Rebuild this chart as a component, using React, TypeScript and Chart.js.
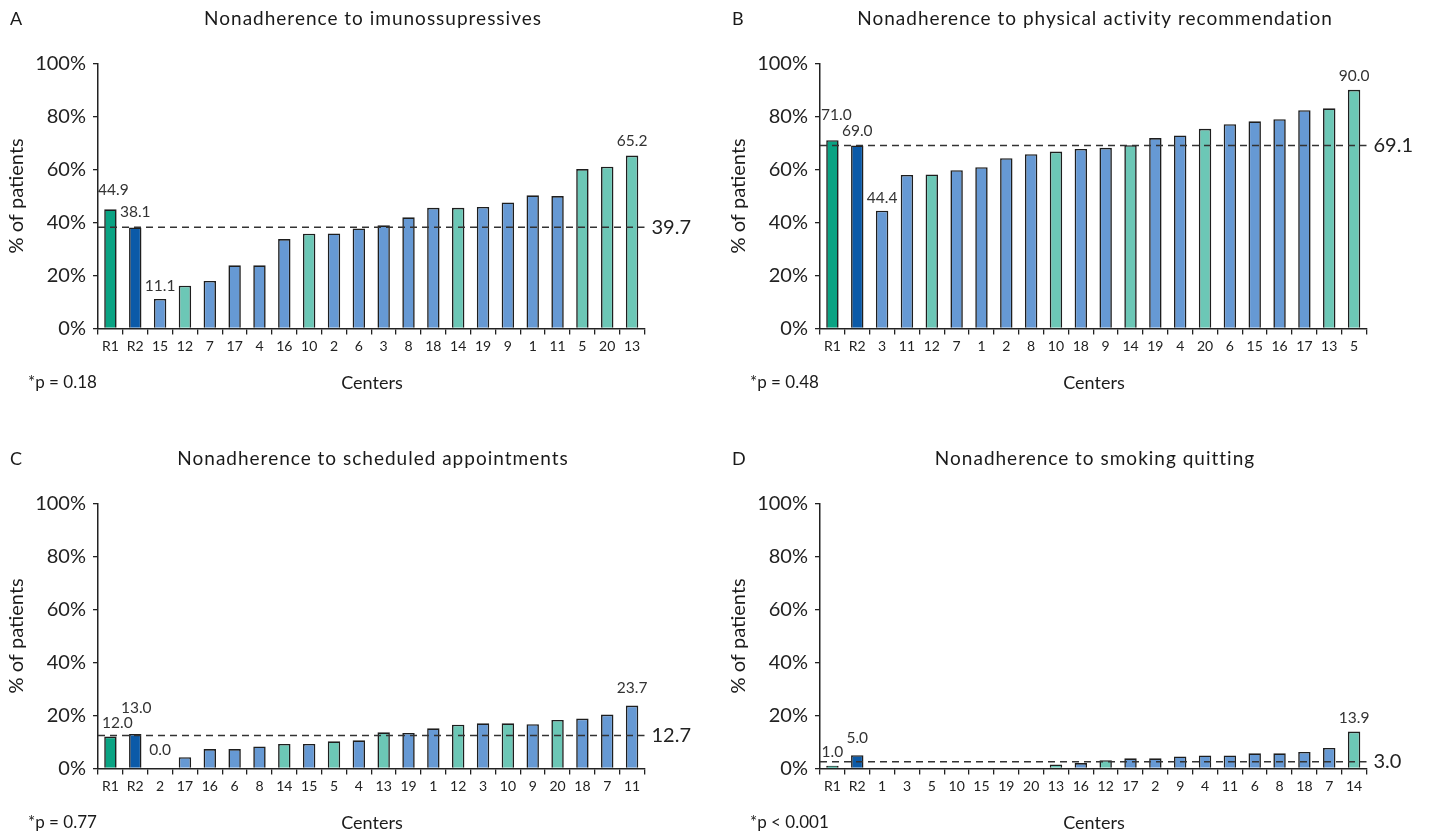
import React, { useEffect, useRef } from "react";
import { Chart, registerables } from "chart.js";

Chart.register(...registerables);

// ---------- data ----------
const titles = [
  "Nonadherence to imunossupressives",
  "Nonadherence to physical activity recommendation",
  "Nonadherence to scheduled appointments",
  "Nonadherence to smoking quitting",
];
const panelLetters = ["A", "B", "C", "D"];
const pValues = ["*p = 0.18", "*p = 0.48", "*p = 0.77", "*p < 0.001"];

const categoriesA = ["R1", "R2", "15", "12", "7", "17", "4", "16", "10", "2", "6", "3", "8", "18", "14", "19", "9", "1", "11", "5", "20", "13"];
const valuesA = [44.9, 38.1, 11.1, 16.1, 17.9, 23.8, 23.8, 33.7, 35.7, 35.8, 37.7, 38.9, 41.9, 45.5, 45.5, 45.8, 47.5, 50.2, 49.9, 60.1, 61.0, 65.2];
const tealA = ["12", "10", "14", "5", "20", "13"];

const categoriesB = ["R1", "R2", "3", "11", "12", "7", "1", "2", "8", "10", "18", "9", "14", "19", "4", "20", "6", "15", "16", "17", "13", "5"];
const valuesB = [71.0, 69.0, 44.4, 57.9, 58.1, 59.7, 60.8, 64.2, 65.7, 66.7, 67.7, 68.1, 69.1, 71.8, 72.8, 75.3, 77.0, 78.1, 78.9, 82.3, 83.0, 90.0];
const tealB = ["12", "10", "14", "20", "13", "5"];

const categoriesC = ["R1", "R2", "2", "17", "16", "6", "8", "14", "15", "5", "4", "13", "19", "1", "12", "3", "10", "9", "20", "18", "7", "11"];
const valuesC = [12.0, 13.0, 0.0, 4.2, 7.3, 7.3, 8.3, 9.2, 9.2, 10.2, 10.6, 13.6, 13.4, 15.1, 16.5, 17.0, 17.0, 16.7, 18.3, 18.8, 20.3, 23.7];
const tealC = ["14", "5", "13", "12", "10", "20"];

const categoriesD = ["R1", "R2", "1", "3", "5", "10", "15", "19", "20", "13", "16", "12", "17", "2", "9", "4", "11", "6", "8", "18", "7", "14"];
const valuesD = [1.0, 5.0, 0, 0, 0, 0, 0, 0, 0, 1.5, 2.0, 3.1, 3.8, 3.8, 4.5, 4.9, 4.9, 5.7, 5.7, 6.2, 7.7, 13.9];
const tealD = ["13", "12", "14"];

// mean line: drawn position and printed value
const meanLineValues = [38.2, 69.0, 12.4, 2.5];
const meanLabels = ["39.7", "69.1", "12.7", "3.0"];

// which bars carry a value label
const labelledA = [0, 1, 2, 21];
const labelledB = [0, 1, 2, 21];
const labelledC = [0, 1, 2, 21];
const labelledD = [0, 1, 21];

const yTicks = [0, 20, 40, 60, 80, 100];

// ---------- styles / layout ----------
const FONT = 'Lato, "Open Sans", "DejaVu Sans", sans-serif';
const COLORS = { r1: "#0aa383", r2: "#0b5aa8", blue: "#6699d4", teal: "#6cc7b6" };
const W = 716;
const H = 396;
const AREA = { left: 98, right: 644.5, top: 63.3, bottom: 328.4 };
// label placement (pixels above bar top, horizontal shift)
const liftA = [19, 15, 13, 15];
const liftB = [25, 14, 13, 14];
const liftC = [14, 26, 18, 18];
const liftD = [14, 17, 14];
const shiftA = [3, 0, 0, 0];
const shiftB = [4, 0, 0, 0];
const shiftC = [7, 1, 0, 0];
const shiftD = [0, 0, 0];

const panels = [
  { cats: categoriesA, vals: valuesA, teal: tealA, lab: labelledA, lift: liftA, shift: shiftA },
  { cats: categoriesB, vals: valuesB, teal: tealB, lab: labelledB, lift: liftB, shift: shiftB },
  { cats: categoriesC, vals: valuesC, teal: tealC, lab: labelledC, lift: liftC, shift: shiftC },
  { cats: categoriesD, vals: valuesD, teal: tealD, lab: labelledD, lift: liftD, shift: shiftD },
];

const positions = [
  { left: 0, top: 0 },
  { left: 722, top: 0 },
  { left: 0, top: 440 },
  { left: 722, top: 440 },
];

const decoPlugin = {
  id: "deco",
  afterDatasetsDraw(chart: any, _args: any, opts: any) {
    const { ctx, chartArea, scales } = chart;
    const y = scales.y;
    ctx.save();
    // mean dashed line
    const ym = y.getPixelForValue(opts.meanLine);
    ctx.strokeStyle = "#333";
    ctx.lineWidth = 1.5;
    ctx.setLineDash([7, 5]);
    ctx.beginPath();
    ctx.moveTo(chartArea.left, ym);
    ctx.lineTo(chartArea.right, ym);
    ctx.stroke();
    ctx.setLineDash([]);
    ctx.fillStyle = "#222";
    ctx.font = `20px ${FONT}`;
    ctx.textAlign = "left";
    ctx.textBaseline = "middle";
    ctx.fillText(opts.meanLabel, chartArea.right + 7, ym);

    // value labels
    ctx.font = `15.5px ${FONT}`;
    ctx.fillStyle = "#333";
    ctx.textAlign = "center";
    const meta = chart.getDatasetMeta(0);
    opts.labelled.forEach((idx: number, k: number) => {
      const bar = meta.data[idx];
      const v = chart.data.datasets[0].data[idx];
      ctx.fillText(Number(v).toFixed(1), bar.x + opts.shift[k], bar.y - opts.lift[k]);
    });
    ctx.restore();
  },
  afterDraw(chart: any, _args: any, opts: any) {
    const { ctx, chartArea } = chart;
    ctx.save();
    ctx.fillStyle = "#1a1a1a";
    ctx.textBaseline = "middle";
    ctx.font = `18px ${FONT}`;
    ctx.textAlign = "left";
    ctx.fillText(opts.letter, 10, 19);
    ctx.textAlign = "center";
    ctx.font = `19px ${FONT}`;
    (ctx as any).letterSpacing = "1px";
    ctx.fillText(opts.title, 373, 19);
    (ctx as any).letterSpacing = "0px";
    ctx.font = `17px ${FONT}`;
    ctx.textAlign = "left";
    ctx.fillText(opts.p, 28, 383);
    ctx.font = `18px ${FONT}`;
    ctx.textAlign = "center";
    ctx.fillText("Centers", 372, 383);
    // y title
    ctx.translate(17, (chartArea.top + chartArea.bottom) / 2);
    ctx.rotate(-Math.PI / 2);
    ctx.font = `20px ${FONT}`;
    ctx.fillText("% of patients", 0, 0);
    ctx.restore();
  },
};

function Panel({ index }: { index: number }) {
  const ref = useRef<HTMLCanvasElement | null>(null);
  useEffect(() => {
    const p = panels[index];
    const colors = p.cats.map((c, i) =>
      i === 0 ? COLORS.r1 : i === 1 ? COLORS.r2 : p.teal.includes(c) ? COLORS.teal : COLORS.blue
    );
    const chart = new Chart(ref.current as HTMLCanvasElement, {
      type: "bar",
      data: {
        labels: p.cats,
        datasets: [
          {
            data: p.vals,
            backgroundColor: colors,
            borderColor: "#1e1e1e",
            borderWidth: 1.6,
            barPercentage: 0.5,
            categoryPercentage: 1,
          },
        ],
      },
      options: {
        animation: false,
        responsive: false,
        devicePixelRatio: 1,
        layout: {
          padding: { left: 0, top: AREA.top, right: W - AREA.right, bottom: 0 },
        },
        plugins: {
          legend: { display: false },
          tooltip: { enabled: false },
          title: { display: false },
          deco: {
            meanLine: meanLineValues[index],
            meanLabel: meanLabels[index],
            labelled: p.lab,
            lift: p.lift,
            shift: p.shift,
            letter: panelLetters[index],
            title: titles[index],
            p: pValues[index],
          },
        } as any,
        scales: {
          x: {
            afterFit: (s: any) => {
              s.height = H - AREA.bottom;
            },
            grid: {
              display: true,
              drawOnChartArea: false,
              drawTicks: true,
              tickLength: 6,
              color: "#222",
              lineWidth: 1.3,
              offset: true,
            },
            border: { display: true, color: "#222", width: 1.5 },
            ticks: {
              color: "#222",
              font: { family: FONT, size: 14 },
              padding: 4,
              maxRotation: 0,
              autoSkip: false,
            },
          },
          y: {
            min: 0,
            max: 100,
            afterFit: (s: any) => {
              s.width = AREA.left;
            },
            afterBuildTicks: (s: any) => {
              s.ticks = yTicks.map((v) => ({ value: v }));
            },
            grid: {
              display: true,
              drawOnChartArea: false,
              drawTicks: true,
              tickLength: 5,
              color: "#222",
              lineWidth: 1.3,
            },
            border: { display: true, color: "#222", width: 1.5 },
            ticks: {
              color: "#222",
              font: { family: FONT, size: 20 },
              padding: 7,
              callback: (v: any) => `${v}%`,
            },
          },
        },
      },
      plugins: [decoPlugin],
    });
    return () => chart.destroy();
  }, [index]);
  return (
    <canvas
      ref={ref}
      width={W}
      height={H}
      style={{ position: "absolute", left: positions[index].left, top: positions[index].top, width: W, height: H }}
    />
  );
}

export default function App() {
  return (
    <div
      style={{
        position: "fixed",
        left: 0,
        top: 0,
        width: 1432,
        height: 836,
        background: "#fff",
        overflow: "hidden",
      }}
    >
      {[0, 1, 2, 3].map((i) => (
        <Panel key={i} index={i} />
      ))}
    </div>
  );
}
